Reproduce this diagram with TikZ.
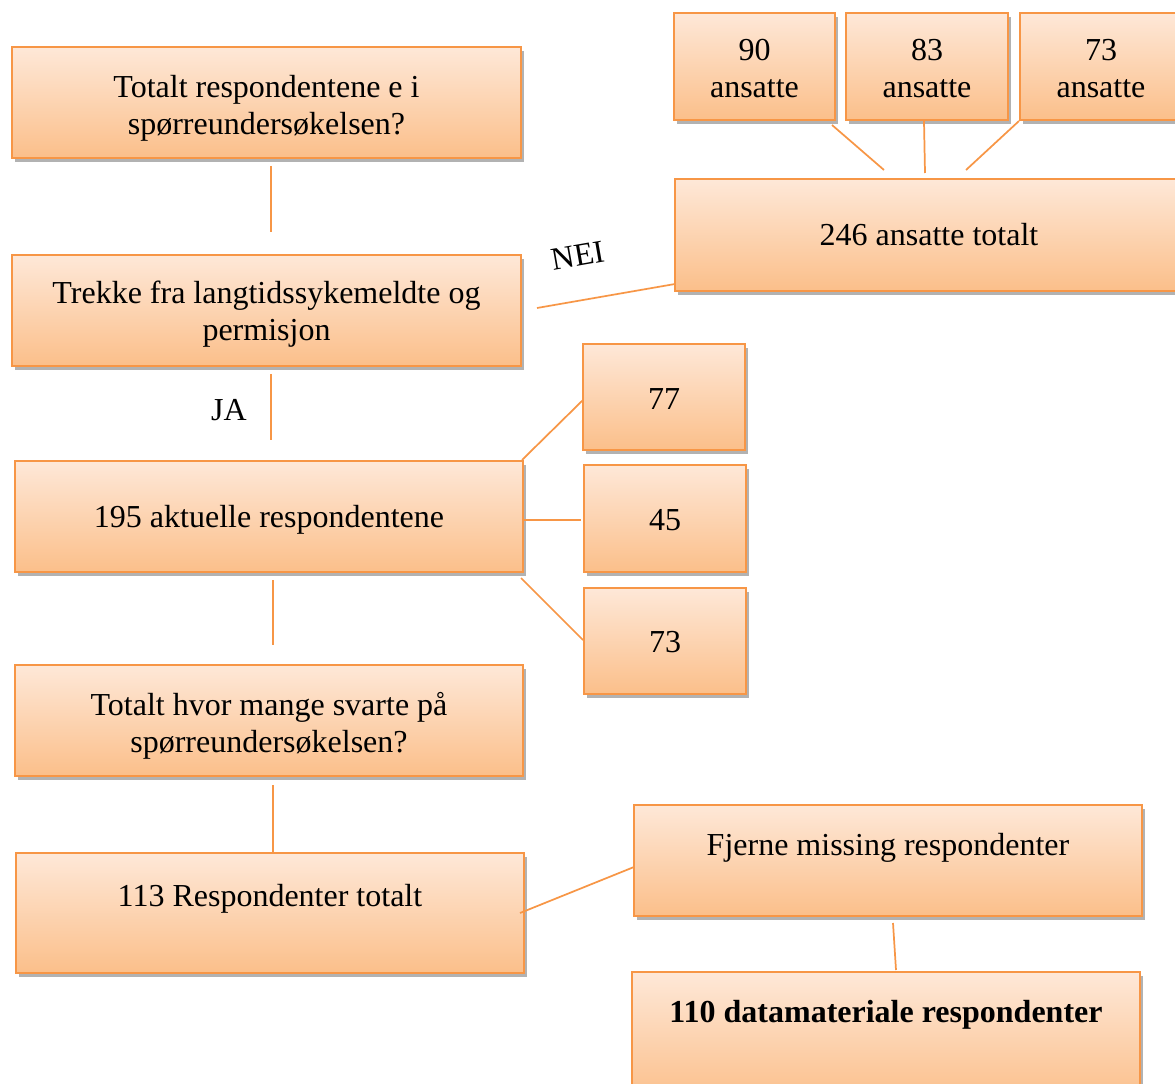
\documentclass[tikz,border=0pt]{standalone}
\usepackage{fontspec}
\setmainfont{Liberation Serif}
\usetikzlibrary{calc,shadows}
\definecolor{obrd}{HTML}{F79646}
\definecolor{otop}{HTML}{FEE8D8}
\definecolor{obot}{HTML}{FBBF8A}
\newcommand\twoline[2]{\begin{tabular}[t]{@{}c@{}}#1\\#2\end{tabular}}
\begin{document}
\begin{tikzpicture}[x=0.75pt,y=-0.75pt,
  bx/.style={draw=obrd, line width=1.5pt, top color=otop, bottom color=obot,
    inner sep=0pt, outer sep=0pt, anchor=north west, font=\fontsize{24}{27.75}\selectfont,
    drop shadow={shadow xshift=2pt, shadow yshift=-3pt, opacity=0.3, fill=black}},
  wide/.style={minimum width=381pt},
  narrow/.style={minimum width=121.5pt},
  conn/.style={draw=obrd, line width=1.3pt},
  lbl/.style={font=\fontsize{24}{27.75}\selectfont, inner sep=0pt}]
\clip (0,0) rectangle (1175,1084);
% left column
\node[bx, minimum width=381.75pt, text height=38.25pt, text depth=45pt] (A) at (12,47) {\twoline{Totalt respondentene e i}{spørreundersøkelsen?}};
\node[bx, minimum width=381.75pt, text height=36.75pt, text depth=46.5pt] (B) at (12,255) {\twoline{Trekke fra langtidssykemeldte og}{permisjon}};
\node[bx, wide, text height=49.5pt, text depth=33.75pt] (C) at (15,461) {195 aktuelle respondentene};
\node[bx, wide, text height=37.5pt, text depth=45.75pt] (D) at (15,665) {\twoline{Totalt hvor mange svarte på}{spørreundersøkelsen?}};
\node[bx, wide, text height=39.75pt, text depth=50.25pt] (E) at (16,853) {113 Respondenter totalt};
% bottom right
\node[bx, wide, text height=37.5pt, text depth=45.75pt] (F) at (634,805) {Fjerne missing respondenter};
\node[bx, wide, text height=37.5pt, text depth=60pt, font=\fontsize{24}{27.75}\selectfont\bfseries] (G) at (632,972) {110 datamateriale respondenter};
% top right
\node[bx, wide, text height=50.25pt, text depth=33.75pt] (H) at (675,179) {246 ansatte totalt};
\node[bx, minimum width=120.75pt, text height=36pt, text depth=44.25pt] (t90) at (674,13) {\twoline{90}{ansatte}};
\node[bx, narrow, text height=36pt, text depth=44.25pt] (t83) at (846,13) {\twoline{83}{ansatte}};
\node[bx, narrow, text height=36pt, text depth=44.25pt] (t73) at (1020,13) {\twoline{73}{ansatte}};
% middle right
\node[bx, narrow, text height=48.75pt, text depth=30.75pt] (r77) at (583,344) {77};
\node[bx, narrow, text height=48.75pt, text depth=31.5pt] (r45) at (584,465) {45};
\node[bx, narrow, text height=48pt, text depth=31.5pt] (r73) at (584,588) {73};
% labels
\node[lbl, rotate=10] (nei) at (578,256) {NEI};
\node[lbl] (ja) at (229,410) {JA};
% connectors
\draw[conn] ($(A.south)+(4.5,8)$) -- ($(B.north)+(4.5,-23)$);
\draw[conn] ($(B.south)+(4.5,8)$) -- ($(C.north)+(2,-21)$);
\draw[conn] ($(C.south)+(4,8)$) -- ($(D.north)+(4,-20)$);
\draw[conn] ($(D.south)+(4,9)$) -- ($(E.north)+(3,-1)$);
\draw[conn] ($(B.east)+(16,-2.5)$) -- ($(H.south west)+(0,-7)$);
\draw[conn] ($(t90.south east)+(-3,5)$) -- ($(H.north)+(-45,-9)$);
\draw[conn] ($(t83.south)+(-3,1)$) -- ($(H.north)+(-4,-6)$);
\draw[conn] ($(t73.south west)+(-1,1)$) -- ($(H.north)+(37,-9)$);
\draw[conn] ($(C.north east)+(-1,-1)$) -- ($(r77.west)+(0,3)$);
\draw[conn] ($(C.east)+(1,3.5)$) -- ($(r45.west)+(-3,1.5)$);
\draw[conn] ($(C.south east)+(-2,6)$) -- ($(r73.west)+(-1,-1)$);
\draw[conn] ($(E.east)+(-4,0)$) -- ($(F.west)+(0,6.5)$);
\draw[conn] ($(F.south)+(5,7)$) -- ($(G.north)+(10,-2)$);
\end{tikzpicture}
\end{document}
